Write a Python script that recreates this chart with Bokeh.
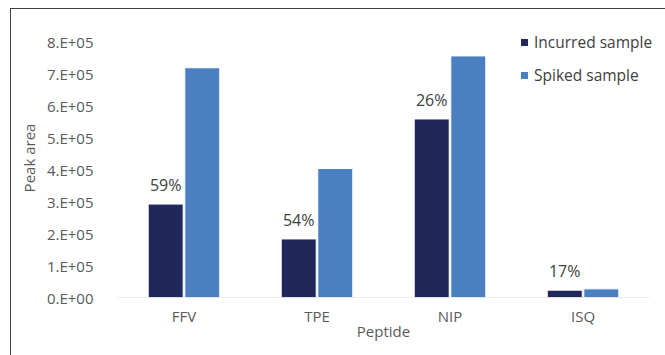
from bokeh.plotting import figure
from bokeh.models import ColumnDataSource, FactorRange, Legend, LegendItem
from bokeh.layouts import column
from bokeh.embed import file_html
from bokeh.resources import INLINE
from bokeh.core.properties import value
from bokeh.transform import dodge

peptides = ["FFV", "TPE", "NIP", "ISQ"]
incurred = [2.92e5, 1.83e5, 5.58e5, 0.23e5]
spiked = [7.18e5, 4.03e5, 7.55e5, 0.27e5]
pct_labels = ["59%", "54%", "26%", "17%"]
y_ticks = [0, 1e5, 2e5, 3e5, 4e5, 5e5, 6e5, 7e5, 8e5]
y_tick_labels = ["0.E+00", "1.E+05", "2.E+05", "3.E+05", "4.E+05", "5.E+05", "6.E+05", "7.E+05", "8.E+05"]

NAVY = "#1f2859"
BLUE = "#4a7fc1"
TXT = "#595959"
FONT = "Open Sans"

src = ColumnDataSource(dict(pep=peptides, inc=incurred, spk=spiked, lab=pct_labels))

p = figure(x_range=FactorRange(*peptides, range_padding=0.12, range_padding_units="absolute"),
           y_range=(0, 8.72e5),
           width=654, height=346, output_backend="svg", toolbar_location=None,
           min_border_left=90, min_border_right=0, min_border_top=9, min_border_bottom=58,
           sizing_mode="fixed")
p.outline_line_color = None
p.grid.grid_line_color = None

# baseline (category axis line) spanning only the categories
base_src = ColumnDataSource(dict(x0=[peptides[0]], x1=[peptides[-1]], y=[0]))
p.segment(x0=dodge("x0", -0.5, range=p.x_range), x1=dodge("x1", 0.5, range=p.x_range),
          y0="y", y1="y", source=base_src, line_color="#d9d9d9", line_width=1)

bw = 0.263
off = bw / 2 + 0.006
r1 = p.vbar(x=dodge("pep", -off, range=p.x_range), top="inc", width=bw, source=src,
            fill_color=NAVY, line_color="white", line_width=1)
r2 = p.vbar(x=dodge("pep", off, range=p.x_range), top="spk", width=bw, source=src,
            fill_color=BLUE, line_color="white", line_width=1)

p.text(x=dodge("pep", -off, range=p.x_range), y="inc", text="lab", source=src,
       text_align="center", text_baseline="bottom", y_offset=-8,
       text_font=value(FONT), text_font_size="16px", text_color="#404040")

p.yaxis.ticker = y_ticks
p.yaxis.major_label_overrides = {t: l for t, l in zip(y_ticks, y_tick_labels)}
p.yaxis.axis_line_color = None
p.yaxis.major_tick_line_color = None
p.yaxis.minor_tick_line_color = None
p.yaxis.major_label_standoff = 2
p.yaxis.axis_label = "Peak area"
p.yaxis.axis_label_standoff = 5

p.xaxis.axis_line_color = None
p.xaxis.major_tick_line_color = None
p.xaxis.minor_tick_line_color = None
p.xaxis.major_label_standoff = 2
p.xaxis.axis_label = "Peptide"
p.xaxis.axis_label_standoff = -8

for ax in (p.xaxis, p.yaxis):
    ax.major_label_text_font = FONT
    ax.major_label_text_font_size = "15px"
    ax.major_label_text_color = TXT
    ax.axis_label_text_font = FONT
    ax.axis_label_text_font_size = "15px"
    ax.axis_label_text_font_style = "normal"
    ax.axis_label_text_color = TXT

legend = Legend(items=[LegendItem(label="Incurred sample", renderers=[r1]),
                       LegendItem(label="Spiked sample", renderers=[r2])],
                location=(418, 211), orientation="vertical")
legend.glyph_width = 10
legend.glyph_height = 10
legend.label_height = 20
legend.spacing = 11
legend.padding = 0
legend.margin = 0
legend.label_standoff = 5
legend.border_line_color = None
legend.background_fill_alpha = 0
legend.label_text_font = FONT
legend.label_text_font_size = "15.5px"
legend.label_text_color = "#404040"
p.add_layout(legend, "center")

layout = column(p, width=655, height=347, sizing_mode="fixed", margin=(8, 0, 0, 10),
                styles={"border-left": "1px solid #404040", "border-top": "1px solid #404040",
                        "box-sizing": "content-box"})

open("out.html", "w").write(file_html(layout, INLINE))
